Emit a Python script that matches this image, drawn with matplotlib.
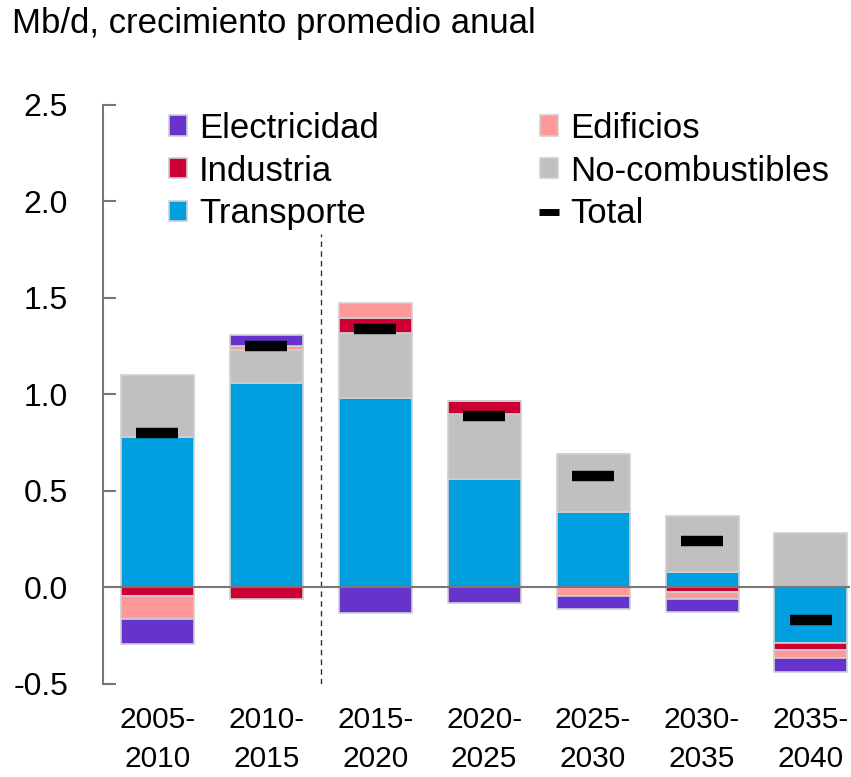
import matplotlib
matplotlib.use('Agg')
import matplotlib.pyplot as plt
from matplotlib.lines import Line2D
import numpy as np

# data (Mb/d, average annual growth)
periods = ['2005-\n2010', '2010-\n2015', '2015-\n2020', '2020-\n2025',
           '2025-\n2030', '2030-\n2035', '2035-\n2040']
transporte = [0.78, 1.06, 0.98, 0.56, 0.39, 0.08, -0.29]
no_combustibles = [0.32, 0.17, 0.34, 0.34, 0.30, 0.29, 0.28]
industria = [-0.045, -0.06, 0.075, 0.065, 0.0, -0.025, -0.035]
edificios = [-0.12, 0.02, 0.08, 0.0, -0.045, -0.035, -0.04]
electricidad = [-0.13, 0.06, -0.13, -0.08, -0.065, -0.065, -0.075]
total = [0.80, 1.25, 1.34, 0.89, 0.58, 0.24, -0.17]

series = [('Transporte', transporte, '#009fdf'),
          ('No-combustibles', no_combustibles, '#c0c0c0'),
          ('Industria', industria, '#cc0033'),
          ('Edificios', edificios, '#ff9999'),
          ('Electricidad', electricidad, '#6633cc')]

plt.rcParams['font.family'] = ['Liberation Sans', 'DejaVu Sans']

fig = plt.figure(figsize=(8.51, 7.77), dpi=100)
ax = fig.add_axes([0.121, 0.1197, 0.878, 0.7452])

x = np.arange(len(periods))
width = 0.67
pos_base = np.zeros(len(periods))
neg_base = np.zeros(len(periods))
handles = {}
for name, vals, col in series:
    v = np.array(vals)
    base = np.where(v >= 0, pos_base, neg_base)
    b = ax.bar(x, v, width, bottom=base, color=col, edgecolor='#cfcfcf',
               linewidth=1.2, zorder=2)
    handles[name] = b
    pos_base = pos_base + np.clip(v, 0, None)
    neg_base = neg_base + np.clip(v, None, 0)

ax.plot(x, total, linestyle='none', marker='_', color='black',
        markersize=30, markeredgewidth=7.5, zorder=4)

ax.axhline(0, color='#777777', linewidth=1.5, zorder=3)
ax.plot([1.5, 1.5], [-0.5, 1.83], color='#333333', linestyle=(0, (4, 3)),
        linewidth=1, zorder=1)

ax.set_xlim(-0.5, 6.36)
ax.set_ylim(-0.5, 2.5)
yt = np.arange(-0.5, 2.51, 0.5)
ax.set_yticks(yt)
ax.set_yticklabels(['%.1f' % t for t in yt])
ax.set_xticks(x)
ax.set_xticklabels(periods, fontsize=21.5, linespacing=1.5)
for s in ['top', 'right', 'bottom']:
    ax.spines[s].set_visible(False)
ax.spines['left'].set_color('#777777')
ax.spines['left'].set_linewidth(1.5)
ax.tick_params(axis='y', direction='in', length=9, width=1.5, color='#777777',
               labelsize=23, pad=25)
ax.tick_params(axis='x', length=0, pad=16)

tot_handle = Line2D([], [], linestyle='none', marker='_', color='black',
                    markersize=14, markeredgewidth=5)
order = ['Electricidad', 'Industria', 'Transporte', 'Edificios', 'No-combustibles']
hs = [handles[n] for n in order] + [tot_handle]
labels = order + ['Total']
leg = ax.legend(hs, labels, ncol=2, loc='upper left', bbox_to_anchor=(0.088, 0.988),
                frameon=False, fontsize=25,
                handlelength=0.52, handleheight=0.52, handletextpad=0.35,
                columnspacing=4.63, labelspacing=0.28, borderaxespad=0,
                borderpad=0)

fig.text(12 / 851, 1 - 24 / 777, 'Mb/d, crecimiento promedio anual',
         fontsize=25, va='center', ha='left')

fig.savefig('out.png', dpi=100)
